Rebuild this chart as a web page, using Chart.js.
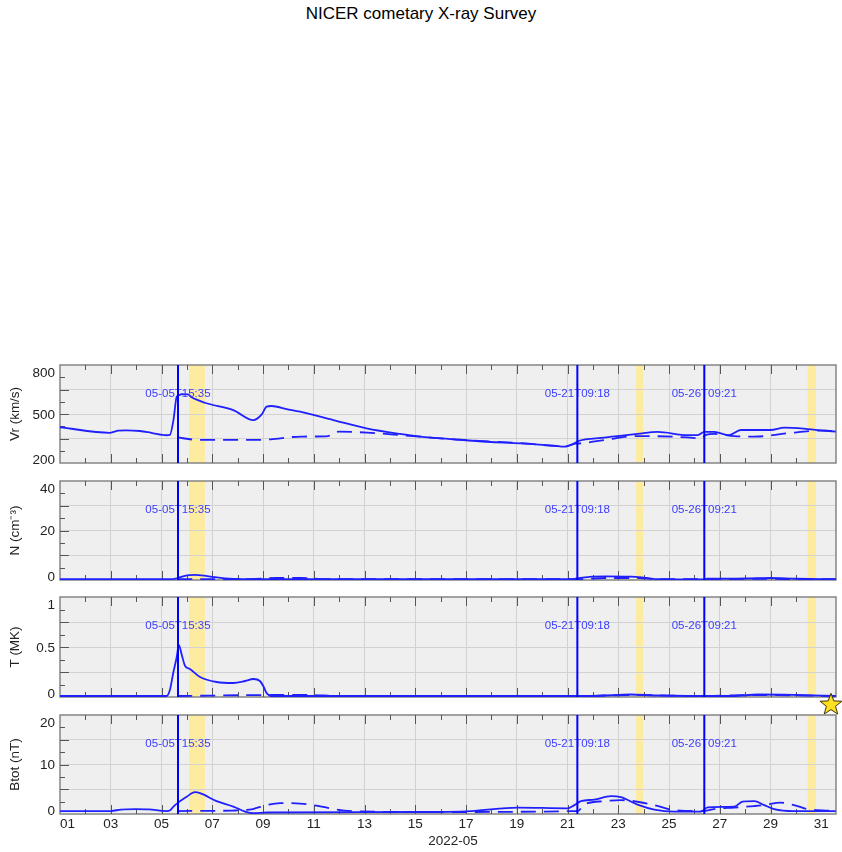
<!DOCTYPE html>
<html><head><meta charset="utf-8">
<script src="https://cdn.jsdelivr.net/npm/chart.js@4.4.0/dist/chart.umd.min.js"></script>
<style>
html,body{margin:0;padding:0;background:#fff;width:842px;height:852px;overflow:hidden;position:relative;font-family:"Liberation Sans",Arial,sans-serif}
#title{position:absolute;left:0;width:842px;top:4px;line-height:20px;text-align:center;font-size:17px;color:#000}
canvas{position:absolute;left:0}
</style></head><body>
<div id="title">NICER cometary X-ray Survey</div>
<script>
// x values: days since 2022-05-01 00:00
const xMax = 30.58;
const dayTickLabels = ['01','03','05','07','09','11','13','15','17','19','21','23','25','27','29','31'];
const xAxisTitle = '2022-05';

const eventDays = [4.649, 20.3875, 25.3896];
const eventLabels = ['05-05T15:35', '05-21T09:18', '05-26T09:21'];
const bandStarts = [5.08, 22.70, 29.46];
const bandEnds   = [5.71, 22.98, 29.79];

// Vr (km/s)
const vrSolidDays = [0, 1.97, 2.3, 2.6, 3.15, 3.6, 4.2, 4.33, 4.47, 4.6, 4.7, 4.78, 5.04, 5.19, 5.71, 6.83, 7.62, 7.95, 8.14, 8.34, 8.93, 9.46, 10.77, 12.08, 13.4, 14.2, 15.54, 16.85, 18.16, 19.47, 19.87, 20.27, 20.4, 21.45, 22.76, 23.55, 24.73, 25.13, 25.39, 25.78, 26.37, 26.83, 28.0, 28.54, 29.46, 30.57];
const vrSolidVals = [419, 385, 398, 400, 396, 385, 370, 372, 463, 606, 616, 621, 620, 602, 569, 524, 463, 498, 545, 549, 530, 514, 463, 412, 378, 362, 345, 330, 320, 306, 300, 320, 333, 355, 378, 390, 371, 371, 390, 390, 371, 402, 402, 416, 408, 392];
const vrDashDays = [4.62, 5.3, 6.5, 7.9, 8.3, 9.5, 10.5, 11.0, 12.1, 13.4, 14.2, 15.5, 16.85, 18.16, 19.87, 20.3, 20.53, 21.45, 22.76, 24.73, 25.26, 25.45, 25.78, 26.57, 27.36, 28.67, 29.98, 30.57];
const vrDashVals = [357, 343, 341, 341, 345, 362, 363, 392, 386, 371, 361, 345, 332, 322, 302, 318, 320, 341, 365, 357, 351, 372, 378, 365, 361, 382, 398, 396];
const vrTickLabels = [800, 500, 200];

// N (cm^-3)
const nSolidDays = [0, 4.3, 4.65, 5.0, 5.3, 5.8, 6.5, 7.2, 20.2, 20.5, 21.5, 22.5, 23.0, 23.6, 25.3, 25.5, 27.0, 28.0, 29.0, 30.57];
const nSolidVals = [0.3, 0.3, 0.8, 1.9, 2.1, 1.6, 0.6, 0.3, 0.3, 0.9, 1.5, 1.4, 1.0, 0.3, 0.2, 0.5, 0.6, 0.8, 0.5, 0.3];
const nDashDays = [4.62, 6.0, 7.5, 8.5, 9.5, 10.5, 20.4, 21.5, 22.8, 23.6, 25.4, 27.5, 29.5, 30.57];
const nDashVals = [0.3, 0.3, 0.3, 0.8, 0.8, 0.3, 0.3, 0.8, 0.8, 0.3, 0.3, 0.5, 0.3, 0.3];
const nTickLabels = [40, 20, 0];

// T (MK)
const tSolidDays = [0, 4.2, 4.33, 4.47, 4.6, 4.68, 4.8, 4.93, 5.12, 5.52, 6.17, 6.83, 7.3, 7.62, 7.88, 8.01, 8.14, 8.34, 21.0, 22.5, 23.5, 26.5, 27.5, 29.0, 30.57];
const tSolidVals = [0.01, 0.01, 0.07, 0.25, 0.40, 0.52, 0.42, 0.31, 0.28, 0.20, 0.15, 0.14, 0.16, 0.18, 0.16, 0.11, 0.04, 0.01, 0.01, 0.025, 0.015, 0.01, 0.025, 0.02, 0.01];
const tDashDays = [4.62, 8.6, 9.8, 11.0, 20.4, 22.5, 25.4, 27.5, 30.57];
const tDashVals = [0.01, 0.02, 0.02, 0.01, 0.01, 0.02, 0.01, 0.02, 0.01];
const tTickLabels = [1, 0.5, 0];
const starDay = 30.38;
const starT = -0.07;

// Btot (nT)
const bSolidDays = [0, 2.0, 2.4, 3.0, 3.5, 4.2, 4.33, 4.47, 4.68, 4.99, 5.32, 5.52, 6.17, 6.83, 7.29, 7.62, 8.14, 14.0, 16.2, 18.03, 20.0, 20.27, 20.53, 21.05, 21.71, 22.1, 22.76, 23.42, 24.2, 25.26, 25.52, 26.57, 26.9, 27.36, 27.75, 28.14, 28.93, 30.57];
const bSolidVals = [0.6, 0.6, 0.9, 1.0, 0.95, 0.6, 0.7, 1.5, 2.4, 3.5, 4.4, 4.2, 2.6, 1.5, 0.5, 0.15, 0.3, 0.4, 0.6, 1.3, 1.15, 1.8, 2.6, 2.9, 3.6, 3.4, 1.9, 0.9, 0.5, 0.5, 1.35, 1.5, 2.5, 2.6, 1.8, 1.0, 0.6, 0.6];
const bDashDays = [4.62, 6.8, 7.6, 8.14, 8.67, 9.46, 10.1, 10.9, 11.5, 14.2, 20.4, 20.66, 21.45, 22.1, 23.42, 24.2, 25.39, 25.78, 26.57, 27.35, 27.75, 28.4, 28.93, 29.46, 30.57];
const bDashVals = [0.6, 0.7, 1.0, 1.8, 2.2, 2.1, 1.7, 0.9, 0.6, 0.4, 0.6, 1.9, 2.6, 2.8, 1.8, 0.8, 0.6, 1.0, 1.3, 1.6, 1.8, 2.3, 1.8, 1.0, 0.6];
const bTickLabels = [20, 10, 0];

const LINE = '#2020ff';
const FONT = '"Liberation Sans", Arial, sans-serif';

const panels = [
  {top:365, bottom:463, min:200, max:800, step:75, labels:vrTickLabels, title:'Vr (km/s)', sd:vrSolidDays, sv:vrSolidVals, dd:vrDashDays, dv:vrDashVals},
  {top:481, bottom:580, min:0, max:40, step:5, labels:nTickLabels, title:'N (cm\u207B\u00B3)', sd:nSolidDays, sv:nSolidVals, dd:nDashDays, dv:nDashVals},
  {top:597, bottom:697, min:0, max:1, step:0.125, labels:tTickLabels, title:'T (MK)', sd:tSolidDays, sv:tSolidVals, dd:tDashDays, dv:tDashVals, star:true},
  {top:715, bottom:814, min:0, max:20, step:2.5, labels:bTickLabels, title:'Btot (nT)', sd:bSolidDays, sv:bSolidVals, dd:bDashDays, dv:bDashVals, bottomAxis:true}
];

function zip(xs, ys){ return xs.map((x,i)=>({x:x, y:ys[i]})); }
function isInt(v){ return Math.abs(v - Math.round(v)) < 1e-6; }

function makeStar(){
  const c = document.createElement('canvas');
  c.width = 26; c.height = 26;
  const g = c.getContext('2d');
  g.beginPath();
  for (let i=0;i<10;i++){
    const r = i%2===0 ? 11.5 : 4.8;
    const a = -Math.PI/2 + i*Math.PI/5;
    const px = 13 + r*Math.cos(a), py = 13.8 + r*Math.sin(a);
    if (i===0) g.moveTo(px,py); else g.lineTo(px,py);
  }
  g.closePath();
  g.fillStyle = '#ffe020';
  g.fill();
  g.lineWidth = 1;
  g.strokeStyle = '#3a3000';
  g.stroke();
  return c;
}

panels.forEach((p) => {
  const padTop = 20;
  const padBottom = p.bottomAxis ? (852 - p.bottom) : 20;
  const cTop = p.top - padTop;
  const cH = (p.bottom - p.top) + padTop + padBottom;
  const canvas = document.createElement('canvas');
  canvas.width = 842; canvas.height = cH;
  canvas.style.top = cTop + 'px';
  canvas.style.width = '842px'; canvas.style.height = cH + 'px';
  document.body.appendChild(canvas);

  const isMajorY = (v) => { const k = Math.round((v - p.min)/p.step); return k % 2 === 0; };

  const plugin = {
    id: 'panelDeco',
    beforeDraw(chart){
      const {ctx, chartArea:a} = chart;
      const xs = chart.scales.x;
      ctx.save();
      ctx.fillStyle = '#efefef';
      ctx.fillRect(a.left, a.top, a.right-a.left, a.bottom-a.top);
      ctx.fillStyle = '#fdeba0';
      bandStarts.forEach((s,i)=>{
        const x0 = xs.getPixelForValue(s), x1 = xs.getPixelForValue(bandEnds[i]);
        ctx.fillRect(x0, a.top, x1-x0, a.bottom-a.top);
      });
      ctx.restore();
    },
    beforeDatasetsDraw(chart){
      const {ctx, chartArea:a} = chart;
      const xs = chart.scales.x, ys = chart.scales.y;
      ctx.save();
      ctx.strokeStyle = '#858585';
      ctx.lineWidth = 1.5;
      ctx.strokeRect(a.left, a.top, a.right-a.left, a.bottom-a.top);
      ctx.strokeStyle = '#555';
      ctx.lineWidth = 1;
      ctx.beginPath();
      xs.ticks.forEach(t => {
        if (!isInt(t.value) || t.value <= 0) return;
        const x = Math.round(xs.getPixelForValue(t.value)) + 0.5;
        const len = (Math.round(t.value) % 2 === 0) ? 9 : 5;
        ctx.moveTo(x, a.top); ctx.lineTo(x, a.top + len);
        ctx.moveTo(x, a.bottom); ctx.lineTo(x, a.bottom - len);
      });
      ys.ticks.forEach(t => {
        if (t.value <= p.min + 1e-9 || t.value >= p.max - 1e-9) return;
        const y = Math.round(ys.getPixelForValue(t.value)) + 0.5;
        const len = isMajorY(t.value) ? 9 : 5;
        ctx.moveTo(a.left, y); ctx.lineTo(a.left + len, y);
      });
      ctx.stroke();
      const fs = 13.5, capH = fs*0.716;
      ctx.font = fs + 'px ' + FONT;
      ctx.fillStyle = '#222';
      ctx.textAlign = 'right';
      ctx.textBaseline = 'alphabetic';
      p.labels.forEach(v => {
        const pix = ys.getPixelForValue(v);
        const base = Math.min(a.bottom + 0.5, Math.max(a.top + capH + 2.5, pix + capH/2));
        ctx.fillText(String(v), a.left - 5, base);
      });
      ctx.save();
      ctx.translate(15.5, (a.top + a.bottom)/2);
      ctx.rotate(-Math.PI/2);
      ctx.textAlign = 'center';
      ctx.textBaseline = 'middle';
      ctx.fillText(p.title, 0, 0);
      ctx.restore();
      if (p.bottomAxis){
        ctx.textAlign = 'center';
        dayTickLabels.forEach(lab => {
          const w = ctx.measureText(lab).width;
          let x = xs.getPixelForValue(parseInt(lab,10) - 1);
          x = Math.max(a.left + w/2, Math.min(a.right - w/2, x));
          ctx.fillText(lab, x, a.bottom + 14);
        });
        ctx.fillText(xAxisTitle, (a.left + a.right)/2 + 5, a.bottom + 31);
      }
      ctx.restore();
    },
    afterDatasetsDraw(chart){
      const {ctx, chartArea:a} = chart;
      const xs = chart.scales.x;
      ctx.save();
      ctx.font = '11.5px ' + FONT;
      ctx.fillStyle = 'rgb(60,60,255)';
      ctx.textAlign = 'center';
      ctx.textBaseline = 'alphabetic';
      eventDays.forEach((d,i) => {
        const x = xs.getPixelForValue(d);
        ctx.fillText(eventLabels[i], x, a.top + 32);
      });
      ctx.strokeStyle = '#0000ff';
      ctx.lineWidth = 2;
      eventDays.forEach(d => {
        const x = xs.getPixelForValue(d);
        ctx.beginPath(); ctx.moveTo(x, a.top); ctx.lineTo(x, a.bottom); ctx.stroke();
      });
      ctx.restore();
    }
  };

  const datasets = [];
  if (p.star){
    datasets.push({data:[{x:starDay, y:starT}], showLine:false, pointStyle: makeStar(), pointRadius: 12, clip:false, borderColor:'#000', backgroundColor:'#ffe020'});
  }
  datasets.push({data: zip(p.sd, p.sv), borderColor: LINE, borderWidth: 1.8, pointRadius: 0, cubicInterpolationMode: 'monotone', fill:false});
  datasets.push({data: zip(p.dd, p.dv), borderColor: LINE, borderWidth: 1.8, borderDash:[15,8], pointRadius: 0, cubicInterpolationMode: 'monotone', fill:false});

  new Chart(canvas, {
    type: 'line',
    data: {datasets},
    options: {
      responsive: false, animation: false, events: [],
      layout: {autoPadding: false, padding: {left: 0, right: 6, top: padTop, bottom: padBottom}},
      plugins: {legend: {display: false}, tooltip: {enabled: false}},
      scales: {
        x: {
          type: 'linear', min: 0, max: xMax,
          ticks: {display: false, stepSize: 1},
          grid: {drawTicks: false, lineWidth: 1,
            color: (c) => (c.tick && isInt(c.tick.value) && Math.round(c.tick.value) % 2 === 0 && c.tick.value > 0) ? '#d2d2d2' : 'rgba(0,0,0,0)'},
          border: {display: false},
          afterFit: (s) => { s.height = 0; }
        },
        y: {
          type: 'linear', min: p.min, max: p.max,
          ticks: {display: false, stepSize: p.step},
          grid: {drawTicks: false, lineWidth: 1,
            color: (c) => (c.tick && c.tick.value > p.min + 1e-9 && c.tick.value < p.max - 1e-9 && isMajorY(c.tick.value)) ? '#d2d2d2' : 'rgba(0,0,0,0)'},
          border: {display: false},
          afterFit: (s) => { s.width = 60; }
        }
      }
    },
    plugins: [plugin]
  });
});
</script>
</body></html>
